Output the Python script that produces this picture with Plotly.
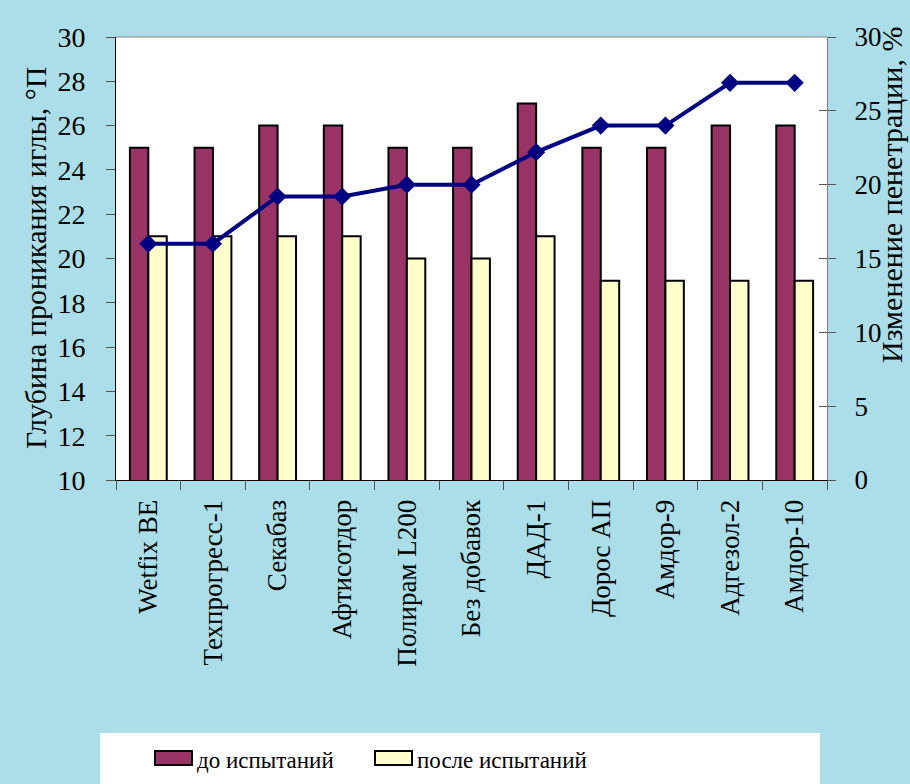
import plotly.graph_objects as go

categories = ["Wetfix BE", "Техпрогресс-1", "Секабаз", "Афтисотдор", "Полирам L200",
              "Без добавок", "ДАД-1", "Дорос АП", "Амдор-9", "Адгезол-2", "Амдор-10"]
before = [25, 25, 26, 26, 25, 25, 27, 25, 25, 26, 26]
after = [21, 21, 21, 21, 20, 20, 21, 19, 19, 19, 19]
change_pct = [16.0, 16.0, 19.2, 19.2, 20.0, 20.0, 22.2, 24.0, 24.0, 26.9, 26.9]
series_names = ["до испытаний", "после испытаний"]
series_colors = ["#993366", "#FFFFCC"]

FONT = "Liberation Serif, Times New Roman, serif"
W, H = 910, 784
L, R, T, B = 116, 83, 37, 304

fig = go.Figure()
for vals, name, col in zip([before, after], series_names, series_colors):
    fig.add_trace(go.Bar(x=categories, y=vals, name=name,
                         marker=dict(color=col, line=dict(color="black", width=2)),
                         showlegend=False))
fig.add_trace(go.Scatter(x=categories, y=change_pct, yaxis="y2", mode="lines+markers",
                         name="Изменение пенетрации",
                         line=dict(color="#000080", width=4),
                         marker=dict(symbol="diamond", size=14, color="#000080"),
                         showlegend=False))
fig.add_trace(go.Scatter(x=[categories[0]], y=[None], yaxis="y3", showlegend=False,
                         hoverinfo="skip"))

pw = W - L - R
ph = H - T - B

def px_x(x):
    return (x - L) / pw

def px_y(y):
    return (H - B - y) / ph

shapes = [
    dict(type="rect", xref="paper", yref="paper", x0=px_x(100), x1=px_x(820),
         y0=px_y(790), y1=px_y(733), fillcolor="white", line=dict(width=0), layer="below"),
    dict(type="line", xref="paper", yref="paper", x0=0, x1=1, y0=1, y1=1,
         line=dict(color="#808080", width=1)),
]
annotations = [
    dict(text="Глубина проникания иглы, °П", xref="paper", yref="paper",
         x=px_x(35), y=px_y(258), textangle=-90, showarrow=False,
         font=dict(size=30, family=FONT), xanchor="center", yanchor="middle"),
    dict(text="Изменение пенетрации, %", xref="paper", yref="paper",
         x=px_x(891), y=px_y(195), textangle=-90, showarrow=False,
         font=dict(size=30, family=FONT), xanchor="center", yanchor="middle"),
]
# legend (custom, to match the wide swatches)
leg_x = [155, 375]
for lx, name, col in zip(leg_x, series_names, series_colors):
    shapes.append(dict(type="rect", xref="paper", yref="paper",
                       x0=px_x(lx), x1=px_x(lx + 37), y0=px_y(765), y1=px_y(751),
                       fillcolor=col, line=dict(color="black", width=2)))
    annotations.append(dict(text=name, xref="paper", yref="paper",
                            x=px_x(lx + 40), y=px_y(760), xanchor="left", yanchor="middle",
                            showarrow=False, font=dict(size=23, family=FONT)))

fig.update_layout(
    width=W, height=H,
    margin=dict(l=L, r=R, t=T, b=B, autoexpand=False),
    paper_bgcolor="#abdee8",
    plot_bgcolor="white",
    font=dict(family=FONT, size=28, color="black"),
    barmode="group", bargap=0.43, bargroupgap=0,
    showlegend=False,
    xaxis=dict(type="category", range=[-0.5, len(categories) - 0.5], tickson="boundaries",
               ticks="outside", ticklen=9,
               tickcolor="#555555", tickangle=-90, showline=True, linecolor="black",
               linewidth=1, tickfont=dict(size=27, family=FONT),
               showgrid=False, zeroline=False, ticklabelstandoff=8),
    yaxis=dict(range=[10, 30], dtick=2, ticks="outside", ticklen=9, tickcolor="#555555",
               showline=True, linecolor="black", linewidth=1, showgrid=False,
               zeroline=False, tickfont=dict(size=28, family=FONT), ticklabelstandoff=15),
    yaxis2=dict(range=[0, 30], dtick=5, overlaying="y", side="right", ticks="outside",
                ticklen=8, tickcolor="#555555", showline=True, linecolor="#808080",
                linewidth=1, showgrid=False, zeroline=False,
                tickfont=dict(size=27, family=FONT), ticklabelstandoff=13),
    yaxis3=dict(range=[0, 30], dtick=5, overlaying="y", side="right", ticks="inside",
                ticklen=8, tickcolor="#555555", showticklabels=False, showgrid=False,
                zeroline=False, showline=False),
    shapes=shapes,
    annotations=annotations,
)

fig.write_html("out.html", post_script="document.body.style.margin='0';",
               config={"displayModeBar": False})
